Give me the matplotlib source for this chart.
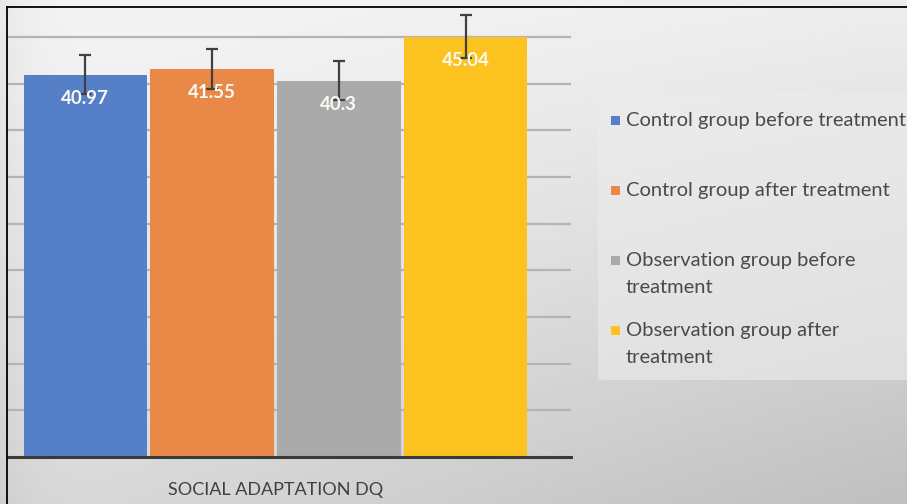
import matplotlib.pyplot as plt
import numpy as np
from matplotlib.patches import Rectangle
from matplotlib.lines import Line2D

# values
groups = ["Control group before treatment", "Control group after treatment",
          "Observation group before\ntreatment", "Observation group after\ntreatment"]
means = [40.97, 41.55, 40.3, 45.04]
errors = [2.1, 2.1, 2.1, 2.3]
value_labels = ["40.97", "41.55", "40.3", "45.04"]
category = "SOCIAL ADAPTATION DQ"
colors = ["#5580c8", "#ea8848", "#aaaaaa", "#fcc220"]

plt.rcParams['font.family'] = ['Lato', 'DejaVu Sans']
W, H = 907, 504
fig = plt.figure(figsize=(W / 100, H / 100), dpi=100)

# grey gradient background, light at the top, darker to the bottom right
bg_ax = fig.add_axes([0, 0, 1, 1], zorder=-10)
yy, xx = np.mgrid[0:1:200j, 0:1:400j]
shade = 0.96 - 0.10 * yy ** 1.3 - 0.08 * xx * (0.4 + yy) - 0.05 * np.exp(-xx * 25)
bg_ax.imshow(shade, cmap='gray', vmin=0, vmax=1, aspect='auto', extent=[0, 1, 0, 1])
bg_ax.set_xlim(0, 1)
bg_ax.set_ylim(0, 1)
bg_ax.axis('off')

# plot area in pixels: x 8..571, y 7..457
ax = fig.add_axes([8 / W, 1 - 457 / H, (571 - 8) / W, (457 - 7) / H])
ax.patch.set_alpha(0)
x = np.arange(len(means))
ax.bar(x, means, width=0.972, color=colors, zorder=2)
ax.errorbar(x, means, yerr=errors, fmt='none', ecolor='#404040', elinewidth=1.6,
            capsize=4.5, capthick=1.6, zorder=3)
for xi, m, lab in zip(x, means, value_labels):
    ax.annotate(lab, (xi, m), xytext=(0, -17), textcoords='offset points',
                ha='center', va='center', color='#fbfbf5', fontsize=13.5,
                fontweight='bold', zorder=4)

ax.set_xlim(-0.609, 3.83)
ax.set_ylim(0, 48.2)
ax.set_yticks(np.arange(5, 50, 5))
ax.yaxis.grid(True, color='#b4b4b4', linewidth=1.6, zorder=0)
ax.tick_params(left=False, labelleft=False, bottom=False, labelbottom=False)
for s in ['top', 'right', 'left']:
    ax.spines[s].set_visible(False)
ax.spines['bottom'].set_color('#3a3a3a')
ax.spines['bottom'].set_linewidth(2.2)
ax.spines['bottom'].set_zorder(5)

fig.text(276 / W, 1 - 490 / H, category, ha='center', va='center',
         fontsize=13, color='#404040')

# legend box
fig.patches.append(Rectangle((598 / W, 1 - 380 / H), (W - 598) / W, (380 - 93) / H,
                             transform=fig.transFigure, facecolor='#ececec',
                             edgecolor='none', alpha=0.6, zorder=-5))
entry_y = [120, 190, 260, 330]
for lab, c, py in zip(groups, colors, entry_y):
    fig.patches.append(Rectangle((611 / W, 1 - (py + 5) / H), 9 / W, 9 / H,
                                 transform=fig.transFigure, facecolor=c,
                                 edgecolor='none'))
    fig.text(626 / W, 1 - (py - 8) / H, lab, ha='left', va='top', fontsize=14.5,
             color='#4a4a4a', linespacing=1.7)

# frame lines of the cropped screenshot
fig.add_artist(Line2D([7 / W, 7 / W], [0, 1 - 7 / H], transform=fig.transFigure,
                      color='black', linewidth=1.3))
fig.add_artist(Line2D([7 / W, 1], [1 - 7 / H, 1 - 7 / H], transform=fig.transFigure,
                      color='black', linewidth=1.3))

fig.savefig('out.png', dpi=100)
